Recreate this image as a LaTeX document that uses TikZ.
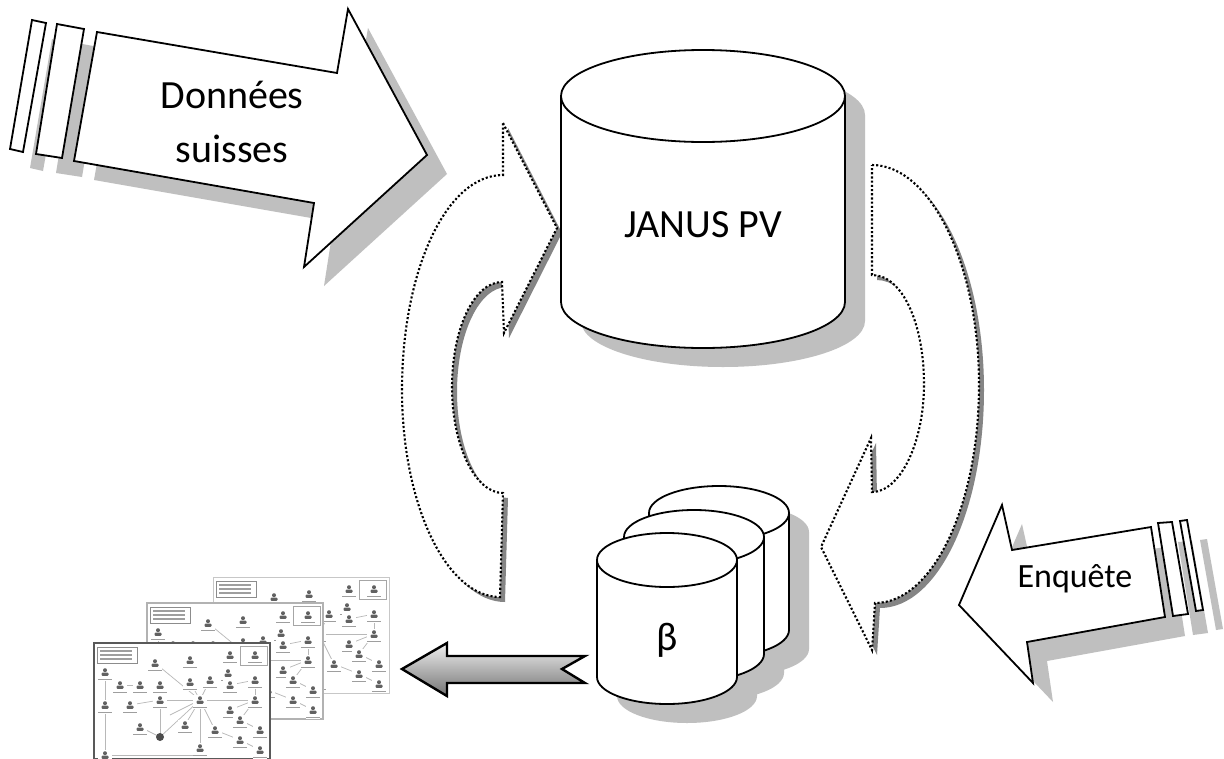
\documentclass[tikz,border=0pt]{standalone}
\usepackage{fontspec}
\setmainfont{Carlito}

\definecolor{softgray}{HTML}{BFBFBF}
\definecolor{darkshade}{HTML}{858585}

% outline of a vertical cylinder: centre x, lid centre y, base centre y, x radius, y radius
\newcommand\cylpath[5]{({#1-#4},{#2}) -- ({#1-#4},{#3})
  .. controls ({#1-#4},{#3+0.5523*#5}) and ({#1-0.5523*#4},{#3+#5}) .. ({#1},{#3+#5})
  .. controls ({#1+0.5523*#4},{#3+#5}) and ({#1+#4},{#3+0.5523*#5}) .. ({#1+#4},{#3})
  -- ({#1+#4},{#2})
  .. controls ({#1+#4},{#2-0.5523*#5}) and ({#1+0.5523*#4},{#2-#5}) .. ({#1},{#2-#5})
  .. controls ({#1-0.5523*#4},{#2-#5}) and ({#1-#4},{#2-0.5523*#5}) .. cycle}
% front rim of the lid
\newcommand\cyllid[5]{({#1-#4},{#2})
  .. controls ({#1-#4},{#2+0.5523*#5}) and ({#1-0.5523*#4},{#2+#5}) .. ({#1},{#2+#5})
  .. controls ({#1+0.5523*#4},{#2+#5}) and ({#1+#4},{#2+0.5523*#5}) .. ({#1+#4},{#2})}

\tikzset{
  outline/.style={draw=black, line width=1.8pt, fill=white, line join=miter},
  rim/.style={draw=black, line width=1.8pt},
  softshadow/.style={fill=softgray, draw=none},
  dotarrow/.style={draw=black, fill=white, line width=2.1pt, dash pattern=on 2.1pt off 2.1pt},
  hardshadow/.style={fill=darkshade, draw=none},
  bigtext/.style={font=\fontsize{40}{54}\selectfont, align=center, inner sep=0pt},
  midtext/.style={font=\fontsize{34}{40}\selectfont, inner sep=0pt},
  page/.style={anchor=north west, minimum width=176pt, minimum height=116pt,
    inner sep=0pt, outer sep=0pt, fill=white},
  icon/.style={fill=black!62},
  netline/.style={draw=black!28, line width=0.7pt},
  tinytext/.style={draw=black!38, line width=1.3pt},
  netpage/.pic={
    \draw[black!45, line width=0.7pt] (3,4) rectangle (43,20);
    \foreach \yy in {8,12,16} \path[tinytext] (6,\yy) -- (38,\yy);
    \draw[black!35, line width=0.6pt] (146,3) rectangle (173,22);
    \foreach \xa/\ya/\xb/\yb in {106/57/61/20, 106/57/96/39, 106/57/116/37, 106/57/66/57,
        106/57/161/57, 106/57/66/94, 106/57/91/82, 106/57/106/105, 106/57/121/87,
        106/57/76/72, 11/29/11/112, 11/112/106/112, 66/57/66/94, 66/57/36/62,
        136/42/161/37, 161/37/161/57, 161/57/146/77, 146/77/166/87, 136/67/161/57,
        146/97/166/107, 46/84/66/94, 121/87/146/97, 136/30/136/42, 26/42/46/42}
      \path[netline] (\xa,\ya) -- (\xb,\yb);
    \foreach \xx/\yy in {11/29, 61/20, 96/17, 136/12, 161/12, 26/42, 46/42, 66/42,
        96/39, 116/37, 134/30, 136/42, 161/37, 11/62, 36/62, 66/57, 106/57, 161/57,
        136/67, 146/77, 166/87, 46/84, 91/82, 121/87, 106/105, 146/97, 166/107, 11/112}
    {
      \fill[white] ({\xx-7},{\yy-5}) rectangle ({\xx+7},{\yy+9});
      \fill[icon] (\xx,{\yy-1.8}) circle[radius=2pt];
      \fill[icon, rounded corners=1pt] ({\xx-3.5},{\yy+0.6}) rectangle ({\xx+3.5},{\yy+3.8});
      \path[tinytext] ({\xx-7},{\yy+7.5}) -- ({\xx+7},{\yy+7.5});
    }
    \fill[black!70] (66,94) circle[radius=4pt];
  }
}

\begin{document}
\begin{tikzpicture}[x=1pt, y=-1pt]
  \fill[white] (0,0) rectangle (1224,758);
  \useasboundingbox (0,0) rectangle (1224,758);

  % ---------- soft drop shadows ----------
  \begin{scope}[shift={(20,19)}]
    \path[softshadow] (97,32) -- (337,73) -- (348,9) -- (427,155) -- (304,267) -- (314,203) -- (74,161) -- cycle;
    \path[softshadow] (57,24) -- (84,29) -- (62,158) -- (36,154) -- cycle;
    \path[softshadow] (32,20) -- (46,23) -- (23,152) -- (10,149) -- cycle;
    \path[softshadow] \cylpath{703}{96}{302}{142}{46};
    \path[softshadow] \cylpath{719}{513}{630}{70}{27};
    \path[softshadow] \cylpath{694}{537}{654}{70}{27};
    \path[softshadow] \cylpath{667}{560}{677}{70}{27};
    \path[softshadow] (959,605) -- (1002,505) -- (1012,550) -- (1151,527) -- (1165,617) -- (1027,642) -- (1033,683) -- cycle;
    \path[softshadow] (1158,523) -- (1172,522) -- (1188,614) -- (1173,616) -- cycle;
    \path[softshadow] (1180,521) -- (1187,520) -- (1203,610) -- (1196,611) -- cycle;
  \end{scope}

  % ---------- curved exchange arrows (dotted) ----------
  \begin{scope}[shift={(5,5)}]
    \path[hardshadow] (503,123) -- (557,228) -- (504,333) -- (502,282)
      .. controls (474,282) and (452,329) .. (452,387)
      .. controls (452,445) and (475,493) .. (503,493)
      -- (500,597)
      .. controls (446,597) and (402,504) .. (402,390)
      .. controls (402,271) and (446,175) .. (503,175) -- cycle;
    \path[hardshadow] (872,165) .. controls (930,165) and (979,263) .. (979,385)
      .. controls (979,505) and (933,603) .. (875,603)
      -- (872,650) -- (821,547) -- (871,438) -- (872,492)
      .. controls (900,492) and (924,443) .. (924,384)
      .. controls (924,325) and (903,275) .. (872,275) -- cycle;
  \end{scope}
  \path[dotarrow] (503,123) -- (557,228) -- (504,333) -- (502,282)
    .. controls (474,282) and (452,329) .. (452,387)
    .. controls (452,445) and (475,493) .. (503,493)
    -- (500,597)
    .. controls (446,597) and (402,504) .. (402,390)
    .. controls (402,271) and (446,175) .. (503,175) -- cycle;
  \path[dotarrow] (872,165) .. controls (930,165) and (979,263) .. (979,385)
    .. controls (979,505) and (933,603) .. (875,603)
    -- (872,650) -- (821,547) -- (871,438) -- (872,492)
    .. controls (900,492) and (924,443) .. (924,384)
    .. controls (924,325) and (903,275) .. (872,275) -- cycle;

  % ---------- input arrow: Swiss data ----------
  \path[outline] (32,20) -- (46,23) -- (23,152) -- (10,149) -- cycle;
  \path[outline] (57,24) -- (84,29) -- (62,158) -- (36,154) -- cycle;
  \path[outline] (97,32) -- (337,73) -- (348,9) -- (427,155) -- (304,267) -- (314,203) -- (74,161) -- cycle;
  \node[bigtext] (donnees) at (232,122) {Données\\suisses};

  % ---------- central database ----------
  \path[outline] \cylpath{703}{96}{302}{142}{46};
  \path[rim] \cyllid{703}{96}{302}{142}{46};
  \node[bigtext] (janus) at (703,225) {JANUS PV};

  % ---------- survey arrow ----------
  \path[outline] (1180,521) -- (1187,520) -- (1203,610) -- (1196,611) -- cycle;
  \path[outline] (1158,523) -- (1172,522) -- (1188,614) -- (1173,616) -- cycle;
  \path[outline] (959,605) -- (1002,505) -- (1012,550) -- (1151,527) -- (1165,617) -- (1027,642) -- (1033,683) -- cycle;
  \node[midtext] (enquete) at (1075,579) {Enquête};

  % ---------- stack of beta databases ----------
  \path[outline] \cylpath{719}{513}{630}{70}{27};
  \path[rim] \cyllid{719}{513}{630}{70}{27};
  \path[outline] \cylpath{694}{537}{654}{70}{27};
  \path[rim] \cyllid{694}{537}{654}{70}{27};
  \path[outline] \cylpath{667}{560}{677}{70}{27};
  \path[rim] \cyllid{667}{560}{677}{70}{27};
  \node[bigtext] (beta) at (667,640) {β};

  % ---------- output arrow ----------
  \path[draw=black, line width=2.4pt, line join=miter, top color=black!6, bottom color=black!55]
    (402,669) -- (447,643) -- (447,656) -- (585,656) -- (562,669) -- (585,683)
    -- (447,683) -- (447,696) -- cycle;

  % ---------- network charts ----------
  \begin{scope}
    \clip (0,0) rectangle (1224,758);
    \node[page, draw=black!22, line width=1pt] (chart3) at (213,577) {};
    \pic at (213,577) {netpage};
    \node[page, draw=black!30, line width=1.2pt] (chart2) at (147,603) {};
    \pic at (147,603) {netpage};
    \node[page, draw=black!65, line width=2pt] (chart1) at (94,643) {};
    \pic at (94,643) {netpage};
  \end{scope}
\end{tikzpicture}
\end{document}
